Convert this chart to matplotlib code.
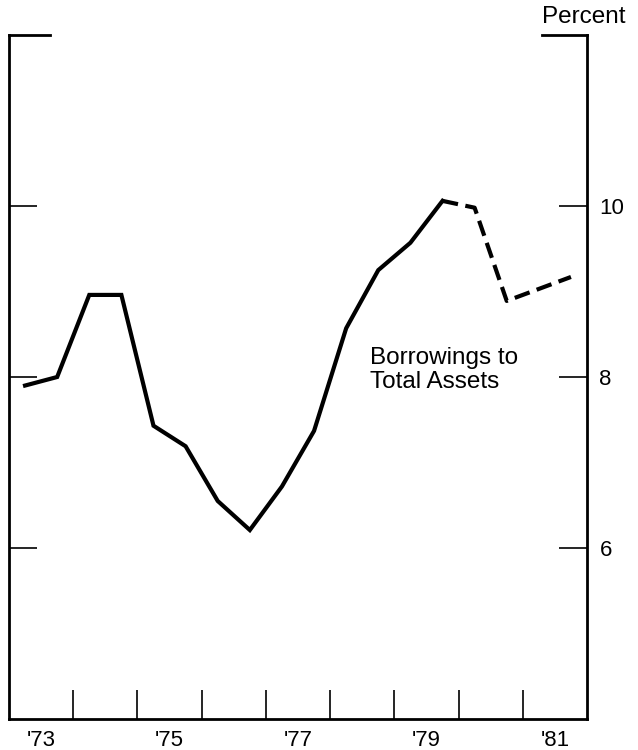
import numpy as np
import matplotlib.pyplot as plt

plt.rcParams['font.family'] = ['Liberation Sans', 'DejaVu Sans']

# Borrowings to total assets, semi-annual (percent)
periodos = [1973.25, 1973.75, 1974.25, 1974.75, 1975.25, 1975.75, 1976.25,
            1976.75, 1977.25, 1977.75, 1978.25, 1978.75, 1979.25, 1979.75]
valores = [7.90, 8.00, 8.96, 8.96, 7.43, 7.19, 6.55,
           6.21, 6.72, 7.37, 8.57, 9.25, 9.57, 10.06]

# Tramo estimado (linea discontinua)
periodos_est = [1979.75, 1980.25, 1980.75, 1981.25, 1981.75]
valores_est = [10.06, 9.98, 8.89, 9.03, 9.17]

anios_label = ["'73", "'75", "'77", "'79", "'81"]
pos_label = [1973.5, 1975.5, 1977.5, 1979.5, 1981.5]
limites_anio = np.arange(1974, 1982)
yticks = [6, 8, 10]

fig = plt.figure(figsize=(6.38, 7.5), dpi=100)
ax = fig.add_axes([9 / 638, 1 - 719 / 750, 578 / 638, 684 / 750])

ax.plot(periodos, valores, color='black', linewidth=3, solid_joinstyle='miter')
ax.plot(periodos_est, valores_est, color='black', linewidth=3,
        dashes=(3.8, 1.8), dash_capstyle='butt')

ax.set_xlim(1973, 1982)
ax.set_ylim(4, 12)

# Ejes: marco abierto arriba
ax.spines['top'].set_visible(False)
for lado in ['left', 'right', 'bottom']:
    ax.spines[lado].set_linewidth(2)
ax.plot([0, 0.071], [1, 1], color='black', linewidth=2,
        transform=ax.transAxes, clip_on=False, solid_capstyle='projecting')
ax.plot([0.922, 1], [1, 1], color='black', linewidth=2,
        transform=ax.transAxes, clip_on=False, solid_capstyle='projecting')

# Ticks del eje X: marcas en los limites de cada anio, etiquetas centradas
ax.set_xticks(limites_anio)
ax.set_xticklabels([])
ax.set_xticks(pos_label, minor=True)
ax.set_xticklabels(anios_label, minor=True)
ax.tick_params(axis='x', which='major', direction='in', length=21, width=1.2)
ax.tick_params(axis='x', which='minor', length=0, pad=8, labelsize=16)

# Ticks del eje Y a ambos lados, etiquetas a la derecha
ax.set_yticks(yticks)
ax.set_yticklabels([str(v) for v in yticks])
ax.tick_params(axis='y', which='both', direction='in', length=20, width=1.2,
               left=True, right=True, labelleft=False, labelright=True,
               pad=9, labelsize=16)
ax.tick_params(axis='y', which='minor', left=False, right=False)

ax.text(1978.62, 8.08, 'Borrowings to\nTotal Assets', fontsize=17.5,
        ha='left', va='center', linespacing=1.1)

fig.text(584 / 638, 1 - 17 / 750, 'Percent', fontsize=17.5,
         ha='center', va='center')

fig.savefig('out.png', dpi=100)
